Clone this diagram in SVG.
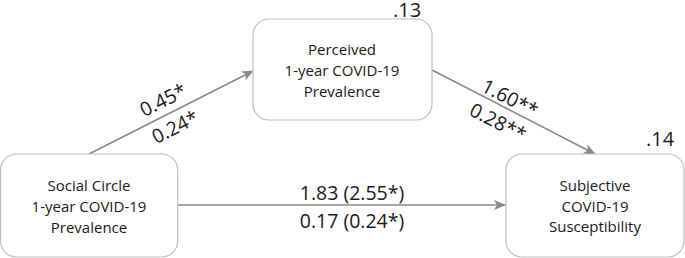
<svg xmlns="http://www.w3.org/2000/svg" width="685" height="258" viewBox="0 0 685 258">
<style>
.box{fill:#fff;stroke:#bfbfbf;stroke-width:1.2}
.t{font-family:"Open Sans","Liberation Sans",Arial,sans-serif;font-size:15px;fill:#1a1a1a;text-anchor:middle}
.c{stroke:#888;stroke-width:1.5;fill:none}
.l{font-family:"Open Sans","Liberation Sans",Arial,sans-serif;font-size:19.5px;fill:#1a1a1a;text-anchor:middle}
.r{font-family:"Open Sans","Liberation Sans",Arial,sans-serif;font-size:20px;fill:#1a1a1a}
</style>
<defs>
<marker id="ah" viewBox="0 0 12 10" refX="11" refY="5" markerWidth="12" markerHeight="10" markerUnits="userSpaceOnUse" orient="auto">
<path d="M0,0 L12,5 L0,10 L3,5 Z" fill="#888"/>
</marker>
</defs>
<g id="connectors">
<line class="c" x1="89" y1="154" x2="253" y2="71" marker-end="url(#ah)"/>
<line class="c" x1="432" y1="70" x2="595" y2="154" marker-end="url(#ah)"/>
<line class="c" x1="177" y1="205" x2="505" y2="205" marker-end="url(#ah)"/>
<text class="l" transform="translate(163,100) rotate(-26.8)" y="7">0.45*</text>
<text class="l" transform="translate(175,127) rotate(-26.8)" y="7">0.24*</text>
<text class="l" transform="translate(510,98) rotate(27.3)" y="7">1.60**</text>
<text class="l" transform="translate(498,122) rotate(27.3)" y="7">0.28**</text>
<text class="l" x="352" y="200">1.83 (2.55*)</text>
<text class="l" x="352" y="228">0.17 (0.24*)</text>
</g>
<g id="social">
<rect class="box" x="0.6" y="154" width="177" height="103" rx="16"/>
<text class="t" x="89" y="191">Social Circle</text>
<text class="t" x="89" y="212">1-year COVID-19</text>
<text class="t" x="89" y="233">Prevalence</text>
</g>
<g id="perceived">
<rect class="box" x="253" y="19" width="179" height="101" rx="16"/>
<text class="t" x="342" y="55">Perceived</text>
<text class="t" x="342" y="76">1-year COVID-19</text>
<text class="t" x="342" y="97">Prevalence</text>
<text class="r" x="393" y="16.5">.13</text>
</g>
<g id="subjective">
<rect class="box" x="506" y="154" width="178" height="103" rx="16"/>
<text class="t" x="595" y="191">Subjective</text>
<text class="t" x="595" y="212">COVID-19</text>
<text class="t" x="595" y="232">Susceptibility</text>
<text class="r" x="646" y="146">.14</text>
</g>
</svg>
